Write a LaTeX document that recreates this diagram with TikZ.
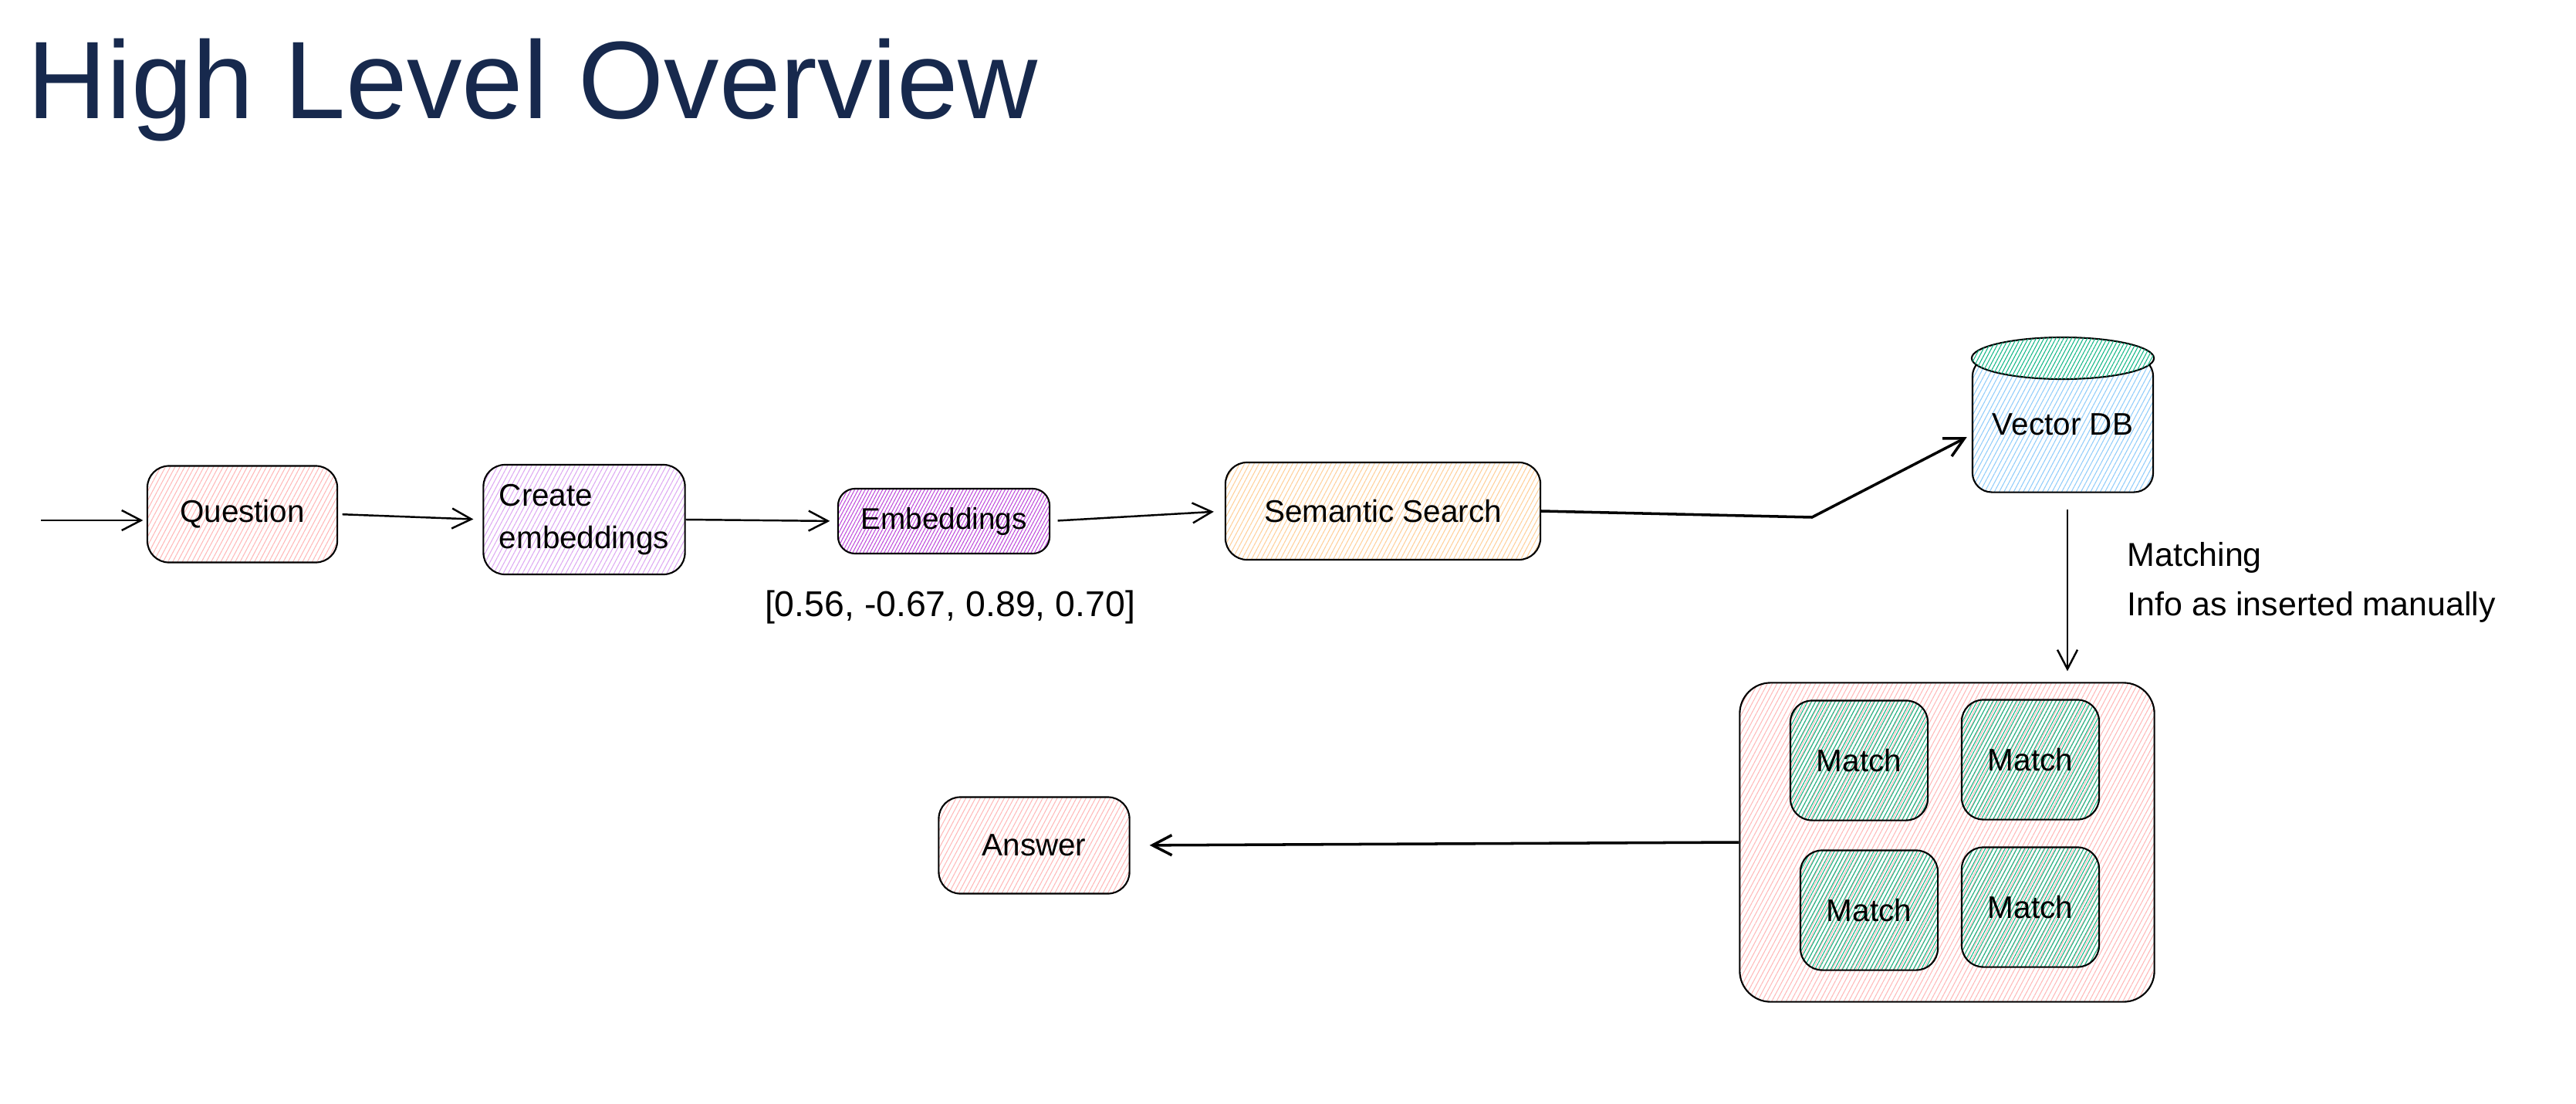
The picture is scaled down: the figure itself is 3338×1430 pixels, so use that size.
\documentclass[tikz,border=0pt]{standalone}
\usepackage{fontspec}
\setmainfont{Liberation Sans}
\usetikzlibrary{arrows.meta, patterns.meta, shapes.geometric}

\definecolor{titleblue}{HTML}{17294D}
\definecolor{lightred}{HTML}{FFB8B8}
\definecolor{lightgrape}{HTML}{DDA8F2}
\definecolor{grape}{HTML}{BE4BDB}
\definecolor{peach}{HTML}{FFD09A}
\definecolor{skyblue}{HTML}{90CCFA}
\definecolor{mint}{HTML}{12B886}

\newcommand\cardfont{\fontsize{11.5}{15.6}\selectfont}

\begin{document}
\begin{tikzpicture}[x=0.01cm, y=-0.01cm]
\tikzset{ >={Straight Barb[length=2.5mm, width=2.6mm]},
  card/.style={draw=black, line width=0.6pt, rounded corners=0.28cm, inner sep=0pt, font=\cardfont, align=center},
  hatch/.style 2 args={pattern={Lines[angle=62, distance=#2, line width=0.3pt]}, pattern color=#1},
  link/.style={->, line width=0.7pt},
}

\useasboundingbox (0,0) rectangle (3338,1430);

%\draw [lightgray, dashed](0,0) grid (3338,1430);

\node [anchor=base west, text=titleblue, font=\fontsize{40.6}{48}\selectfont, inner sep=0pt] (title) at (35,153) {High Level Overview};

% top row
\coordinate (in) at (53,674);
\node [card, hatch={lightred}{0.55mm}, minimum width=2.46cm, minimum height=1.25cm] (q) at (314,666) {Question};
\node [card, hatch={lightgrape}{0.55mm}, align=left, minimum width=2.61cm, minimum height=1.42cm] (c) at (757,673) {Create\\embeddings};
\node [card, hatch={grape}{0.4mm}, rounded corners=0.22cm, minimum width=2.74cm, minimum height=0.84cm, font=\fontsize{11}{13}\selectfont] (e) at (1223,675) {Embeddings};
\node [font=\fontsize{13.2}{16}\selectfont] (vec) at (1231,786) {[0.56, -0.67, 0.89, 0.70]};
\node [card, hatch={peach}{0.55mm}, minimum width=4.08cm, minimum height=1.26cm] (s) at (1792,662) {Semantic Search};

% vector store
\node [card, hatch={skyblue}{0.55mm}, rounded corners=0.25cm, minimum width=2.34cm, minimum height=1.75cm] (vdb) at (2673,550) {Vector DB};
\node [draw, ellipse, line width=0.6pt, fill=white, inner sep=0pt, minimum width=2.36cm, minimum height=0.54cm] (vdbtop) at (2673,464) {};
\node [ellipse, hatch={mint}{0.45mm}, inner sep=0pt, minimum width=2.36cm, minimum height=0.54cm] at (vdbtop) {};
\coordinate (bend) at (2348,670);

\node [anchor=north west, align=left, font=\fontsize{12.2}{18.2}\selectfont, inner sep=0pt] (note) at (2756,702) {Matching\\Info as inserted manually};

% matches
\node [card, hatch={lightred}{0.55mm}, rounded corners=0.4cm, minimum width=5.37cm, minimum height=4.13cm] (box) at (2523,1091) {};
\node [card, hatch={mint}{0.45mm}, minimum width=1.78cm, minimum height=1.55cm] (m1) at (2409,985) {Match};
\node [card, hatch={mint}{0.45mm}, minimum width=1.78cm, minimum height=1.55cm] (m2) at (2631,984) {Match};
\node [card, hatch={mint}{0.45mm}, minimum width=1.78cm, minimum height=1.55cm] (m3) at (2422,1179) {Match};
\node [card, hatch={mint}{0.45mm}, minimum width=1.78cm, minimum height=1.55cm] (m4) at (2631,1175) {Match};

\node [card, hatch={lightred}{0.55mm}, minimum width=2.47cm, minimum height=1.25cm] (ans) at (1340,1095) {Answer};

% connectors
\draw [link, shorten >=0.05cm] (in) -- (in -| q.west);
\draw [link, shorten <=0.06cm, shorten >=0.12cm] (q.east) -- (c.west);
\draw [link, shorten >=0.1cm] (c.east) -- (e.west);
\draw [link, shorten <=0.1cm, shorten >=0.14cm] (e.east) -- (s.west);
\draw [link, line width=1pt, shorten >=0.07cm] (s.east) -- (bend) -- ([yshift=-0.13cm]vdb.west);
\coordinate (drop) at ([xshift=0.06cm]vdb.south);
\draw [link, shorten <=0.21cm, shorten >=0.14cm] (drop) -- (drop |- box.north);
\draw [link, line width=1pt, shorten >=0.25cm] (box.west) -- (ans.east);

\end{tikzpicture}
\end{document}
